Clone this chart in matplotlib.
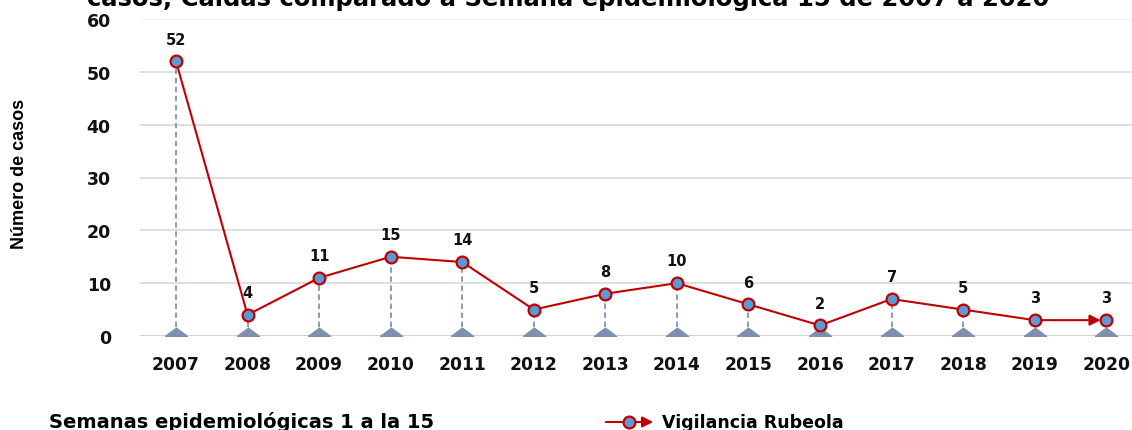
import matplotlib
matplotlib.use("Agg")
import matplotlib.pyplot as plt
from matplotlib.lines import Line2D
from matplotlib.patches import FancyArrowPatch
import numpy as np

# data
years = ['2007', '2008', '2009', '2010', '2011', '2012', '2013',
         '2014', '2015', '2016', '2017', '2018', '2019', '2020']
cases = [52, 4, 11, 15, 14, 5, 8, 10, 6, 2, 7, 5, 3, 3]
y_ticks = [0, 10, 20, 30, 40, 50, 60]

title = 'casos, Caldas comparado a Semana epidemiológica 15 de 2007 a 2020'
y_label = 'Número de casos'
x_note = 'Semanas epidemiológicas 1 a la 15'
series_name = 'Vigilancia Rubeola'

RED = '#c00000'
BLUE = '#5b9bd5'
DROP = '#8094b8'
W, H = 1132, 431

fig = plt.figure(figsize=(W / 100, H / 100), dpi=100)
ax = fig.add_axes([140 / W, 1 - 337 / H, 1 - 140 / W, (337 - 20) / H])

x = np.arange(len(years))
y = np.array(cases)

# drop lines + flat triangles on baseline
tri = [(-1.0, 0.0), (1.0, 0.0), (0.0, 0.75), (-1.0, 0.0)]
ax.vlines(x, 0, y, colors=DROP, linestyles=(0, (3, 2)), linewidth=1.3, zorder=2)
ax.plot(x, np.zeros_like(x), linestyle='none', marker=tri, markersize=16,
        color='#7f8fb0', zorder=3)

# main series
ax.plot(x[:-1], y[:-1], color=RED, linewidth=1.5, zorder=4)
ax.annotate('', xy=(x[-1], y[-1]), xytext=(x[-2], y[-2]),
            arrowprops=dict(arrowstyle='-|>', color=RED, lw=1.5,
                            mutation_scale=16, shrinkA=0, shrinkB=4),
            zorder=4)
ax.plot(x, y, linestyle='none', marker='o', markersize=8.5,
        markerfacecolor=BLUE, markeredgecolor=RED, markeredgewidth=1.6, zorder=5)

for xi, yi in zip(x, y):
    ax.annotate(str(yi), (xi, yi), xytext=(0, 16), textcoords='offset points',
                ha='center', va='center', fontsize=10.5, fontweight='bold',
                family='DejaVu Sans', color='#111111')

# axes styling
ax.set_xlim(-0.503, 13.36)
ax.set_ylim(0, 60)
ax.set_yticks(y_ticks)
ax.set_yticklabels([str(t) for t in y_ticks], fontsize=12.5, fontweight='bold',
                   family='DejaVu Sans')
ax.set_xticks(x)
ax.set_xticklabels(years, fontsize=12.3, fontweight='bold', family='DejaVu Sans')
ax.tick_params(axis='both', length=0, colors='#111111')
ax.tick_params(axis='x', pad=14)
ax.tick_params(axis='y', pad=21)
for s in ax.spines.values():
    s.set_visible(False)
for t in y_ticks[1:-1]:
    ax.axhline(t, color='#d9d9d9', linewidth=1.2, zorder=1)
ax.axhline(60, color='#f0f0f0', linewidth=1.2, zorder=1)
ax.axhline(0, color='#cfcfcf', linewidth=1.3, zorder=1)

fig.text(20 / W, 1 - 174 / H, y_label, rotation=90, ha='center', va='center',
         fontsize=13, fontweight='bold',
         family=['Liberation Sans Narrow', 'Liberation Sans', 'DejaVu Sans'])

# clipped title at the top
fig.text(568 / W, 1 - 6 / H, title, ha='center', va='baseline',
         fontsize=17.5, fontweight='bold', family='DejaVu Sans')

# note and legend at the bottom
fig.text(49 / W, 1 - 428 / H, x_note, ha='left', va='baseline',
         fontsize=14, fontweight='bold', family='DejaVu Sans')
ly = 1 - 423 / H
fig.add_artist(FancyArrowPatch(posA=(603 / W, ly), posB=(656 / W, ly),
                               transform=fig.transFigure, arrowstyle='-|>',
                               mutation_scale=16, color=RED, lw=1.5))
fig.add_artist(Line2D([629 / W], [ly], transform=fig.transFigure, linestyle='none',
                      marker='o', markersize=8.5, markerfacecolor=BLUE,
                      markeredgecolor=RED, markeredgewidth=1.6))
fig.text(662 / W, ly, series_name, ha='left', va='center',
         fontsize=12.5, fontweight='bold', family='DejaVu Sans')

fig.savefig('out.png', dpi=100)
